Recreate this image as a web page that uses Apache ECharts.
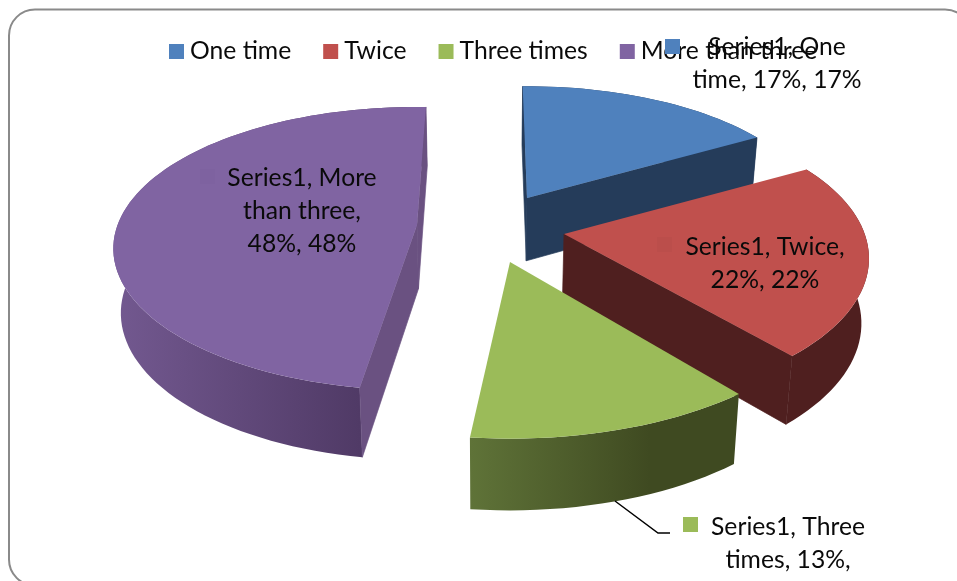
<!DOCTYPE html>
<html><head><meta charset="utf-8">
<style>html,body{margin:0;padding:0;background:#fff}#c{width:957px;height:581px}</style>
<script src="https://cdn.jsdelivr.net/npm/echarts@6/dist/echarts.min.js"></script>
</head><body><div id="c"></div>
<script>
// Data
const categories = ['One time', 'Twice', 'Three times', 'More than three'];
const percents = [17, 22, 13, 48];
const seriesName = 'Series1';

// Appearance and 3D layout, separate from the data
const topColors = ['#4f81bd', '#c0504d', '#9bbb59', '#8064a2'];
const wallStops = [['#253c5a', '#253c5a'], ['#4f1f1f', '#4f1f1f'], ['#5f7338', '#3f4a21'], ['#72588f', '#503a66']];
const wallRange = [[520, 760], [560, 870], [470, 650], [120, 360]];
const cutColors = ['#253c5a', '#4f1f1f', '#3f4a21', '#6a5181'];
const apexes = [[527, 198], [564, 234], [510, 262], [417, 225]];
const radii = [300, 300, 305, 302];
const tilts = [0.45, 0.475, 0.46, 0.46];
// Which radial cut faces face the viewer: [start, end]
const cutVisible = [[true, true], [false, true], [false, false], [true, true]];
// Small perspective corrections of each slice's start and end angle, in degrees
const angleTweak = [[-1, -1.5], [-0.5, -2], [1, -1.2], [2, 2]];
const drawOrder = [3, 0, 1, 2];
const FOCAL = 1800, Y_REF = 232, VX = 490, LOW_X = 0.98;

const total = percents.reduce((a, b) => a + b, 0);
function sliceAngles(i, v) {
  let before = 0;
  for (let k = 0; k < i; k++) before += percents[k];
  return [before / total * 360 + angleTweak[i][0], (before + v) / total * 360 + angleTweak[i][1]];
}
function rim(i, deg) {
  const t = deg * Math.PI / 180, a = apexes[i], R = radii[i], k = tilts[i];
  const Y = R * Math.cos(t) + (Y_REF - a[1]) / k;
  const s = FOCAL / (FOCAL + Y);
  return [a[0] + R * Math.sin(t) * s, a[1] - k * R * Math.cos(t) * s, s];
}
function low(p, s) {
  return [VX + (p[0] - VX) * LOW_X, p[1] + 34 + 30 * s];
}
function apexLow(i) {
  const a = apexes[i];
  const s = FOCAL / (FOCAL + (Y_REF - a[1]) / tilts[i]);
  return low(a, s);
}
function makeRender(i) {
  return function (params, api) {
    const [a0, a1] = sliceAngles(i, api.value(0));
    const n = Math.max(12, Math.round((a1 - a0) / 2));
    const arc = [];
    for (let k = 0; k <= n; k++) arc.push(rim(i, a0 + (a1 - a0) * k / n));
    const top = arc.map(p => [p[0], p[1]]);
    const bottom = arc.map(p => low(p, p[2]));
    const apex = apexes[i], aLow = apexLow(i);
    const wallFill = {
      type: 'linear', global: true,
      x: wallRange[i][0], y: 0, x2: wallRange[i][1], y2: 0,
      colorStops: [{ offset: 0, color: wallStops[i][0] }, { offset: 1, color: wallStops[i][1] }]
    };
    const poly = (pts, fill, stroke) => ({
      type: 'polygon', shape: { points: pts },
      style: { fill: fill, stroke: stroke || null, lineWidth: stroke ? 0.7 : 0, lineJoin: 'round' }
    });
    const children = [poly(top.concat(bottom.slice().reverse()), wallFill)];
    if (cutVisible[i][0]) children.push(poly([apex, top[0], bottom[0], aLow], cutColors[i], cutColors[i]));
    if (cutVisible[i][1]) children.push(poly([apex, top[n], bottom[n], aLow], cutColors[i], cutColors[i]));
    children.push(poly([apex].concat(top), topColors[i]));
    return { type: 'group', children: children };
  };
}
const FONT = 'Lato, "Open Sans", sans-serif';
const FONT_SIZE = 24.7;
const labelSpec = [
  { x: 777, y: 31, lines: [seriesName + ', ' + 'One', 'time, ' + percents[0] + '%, ' + percents[0] + '%'], key: [665, 39], keyColor: topColors[0] },
  { x: 765, y: 231, lines: [seriesName + ', ' + categories[1] + ',', percents[1] + '%, ' + percents[1] + '%'], key: [657, 237], keyColor: '#bb4e4b' },
  { x: 788, y: 511, lines: [seriesName + ', ' + 'Three', 'times, ' + percents[2] + '%,'], key: [683, 517], keyColor: topColors[2] },
  { x: 302, y: 162, lines: [seriesName + ', ' + 'More', 'than three,', percents[3] + '%, ' + percents[3] + '%'], key: [200, 169], keyColor: '#7e62a0' }
];
const graphics = [{
  type: 'rect', z: 0,
  shape: { x: 9, y: 9.5, width: 962, height: 576, r: 26 },
  style: { fill: 'none', stroke: '#8a8a8a', lineWidth: 2 }
}, {
  type: 'polyline', z: 100,
  shape: { points: [[615, 501], [658, 533], [670, 533]] },
  style: { stroke: '#000', lineWidth: 1.5, fill: 'none' }
}];
labelSpec.forEach(l => {
  graphics.push({ type: 'rect', z: 100, shape: { x: l.key[0], y: l.key[1], width: 15, height: 15 }, style: { fill: l.keyColor } });
  graphics.push({
    type: 'text', z: 101,
    style: { x: l.x, y: l.y, text: l.lines.join('\n'), align: 'center', verticalAlign: 'top',
      font: FONT_SIZE + 'px ' + FONT, lineHeight: 33, fill: '#0a0a0a' }
  });
});
const chart = echarts.init(document.getElementById('c'), null, { renderer: 'canvas' });
chart.setOption({
  animation: false,
  backgroundColor: '#fff',
  legend: {
    data: categories, left: 169, top: 39, itemWidth: 15, itemHeight: 15, itemGap: 32, icon: 'rect',
    padding: 0, selectedMode: false, z: 20,
    textStyle: { fontFamily: FONT, fontSize: FONT_SIZE, color: '#0a0a0a', padding: [0, 0, 0, 1] }
  },
  graphic: { elements: graphics },
  series: drawOrder.map(i => ({
    type: 'custom',
    name: categories[i],
    coordinateSystem: 'none',
    itemStyle: { color: topColors[i] },
    renderItem: makeRender(i),
    data: [[percents[i]]],
    silent: true
  }))
});
</script></body></html>
